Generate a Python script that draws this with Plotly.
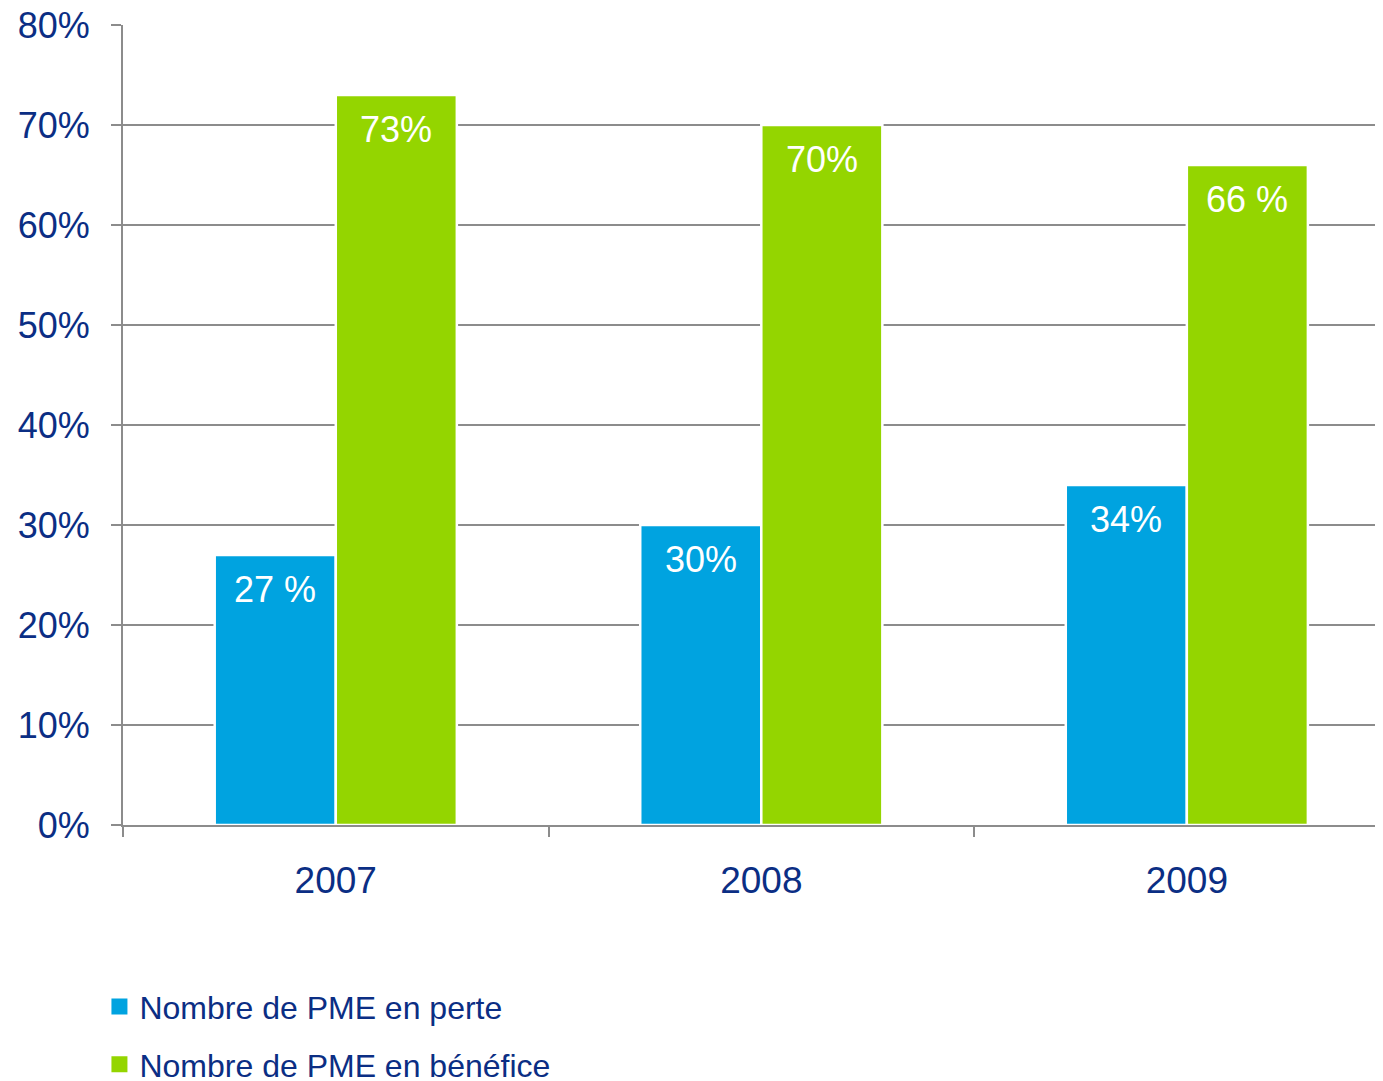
import plotly.graph_objects as go

# ── Data ──────────────────────────────────────────────────────────────────────
years        = ["2007", "2008", "2009"]
perte        = [27, 30, 34]
benefice     = [73, 70, 66]
perte_txt    = ["27 %", "30%", "34%"]
benefice_txt = ["73%", "70%", "66 %"]
y_ticks      = [0, 10, 20, 30, 40, 50, 60, 70, 80]
y_tick_txt   = [f"{v}%" for v in y_ticks]

# ── Style ─────────────────────────────────────────────────────────────────────
COLOR_PERTE    = "#00A3E0"
COLOR_BENEFICE = "#94D500"
COLOR_TEXT     = "#0b2e84"
COLOR_GRID     = "#8c8c8c"
FONT           = "Liberation Sans, Arial, sans-serif"

fig = go.Figure()

fig.add_trace(go.Bar(
    x=years, y=perte, name="Nombre de PME en perte",
    marker=dict(color=COLOR_PERTE, line=dict(color="white", width=2.5)),
    showlegend=False, hoverinfo="skip",
))
fig.add_trace(go.Bar(
    x=years, y=benefice, name="Nombre de PME en bénéfice",
    marker=dict(color=COLOR_BENEFICE, line=dict(color="white", width=2.5)),
    showlegend=False, hoverinfo="skip",
))

# legend swatches (bigger squares than the default bar swatch)
for name, color, grp in [("Nombre de PME en perte", COLOR_PERTE, "a"),
                         ("Nombre de PME en bénéfice", COLOR_BENEFICE, "b")]:
    fig.add_trace(go.Scatter(
        x=[years[0]], y=[None], mode="markers", name=name, legendgroup=grp,
        marker=dict(symbol="square", size=20, color=color), hoverinfo="skip",
    ))

# value labels near the top of each bar (x given as category index,
# since numeric-looking category names get read as numbers)
for vals, txts, shift in [(perte, perte_txt, -60.5), (benefice, benefice_txt, 60.5)]:
    for i, (v, t) in enumerate(zip(vals, txts)):
        fig.add_annotation(
            x=i, y=v, text=t, showarrow=False,
            xshift=shift, yshift=-34, yanchor="middle",
            font=dict(family=FONT, size=36, color="white"),
        )

fig.update_layout(
    width=1375, height=1073,
    margin=dict(l=115, r=0, t=17, b=256, autoexpand=False),
    paper_bgcolor="white", plot_bgcolor="white",
    barmode="group", bargap=0.431, bargroupgap=0,
    font=dict(family=FONT, color=COLOR_TEXT),
    legend=dict(
        xref="container", yref="container",
        x=0.0665, y=0.0948, xanchor="left", yanchor="top",
        font=dict(size=32, color=COLOR_TEXT),
        tracegroupgap=13,
    ),
    xaxis=dict(
        type="category", categoryorder="array", categoryarray=years,
        range=[-0.5, 2.461],
        showgrid=False, showline=True, linecolor=COLOR_GRID, linewidth=2,
        ticks="outside", tickson="boundaries", ticklen=10, tickwidth=2,
        tickcolor=COLOR_GRID, tickfont=dict(size=37, color=COLOR_TEXT),
        ticklabelstandoff=22, tickangle=0,
    ),
    yaxis=dict(
        range=[0, 80], tickvals=y_ticks, ticktext=y_tick_txt,
        showgrid=True, gridcolor=COLOR_GRID, gridwidth=2,
        showline=True, linecolor=COLOR_GRID, linewidth=2, zeroline=False,
        ticks="outside", ticklen=10, tickwidth=2, tickcolor=COLOR_GRID,
        tickfont=dict(size=36, color=COLOR_TEXT), ticklabelstandoff=14,
        ticklabeloverflow="allow",
    ),
)

fig.write_html("out.html")
